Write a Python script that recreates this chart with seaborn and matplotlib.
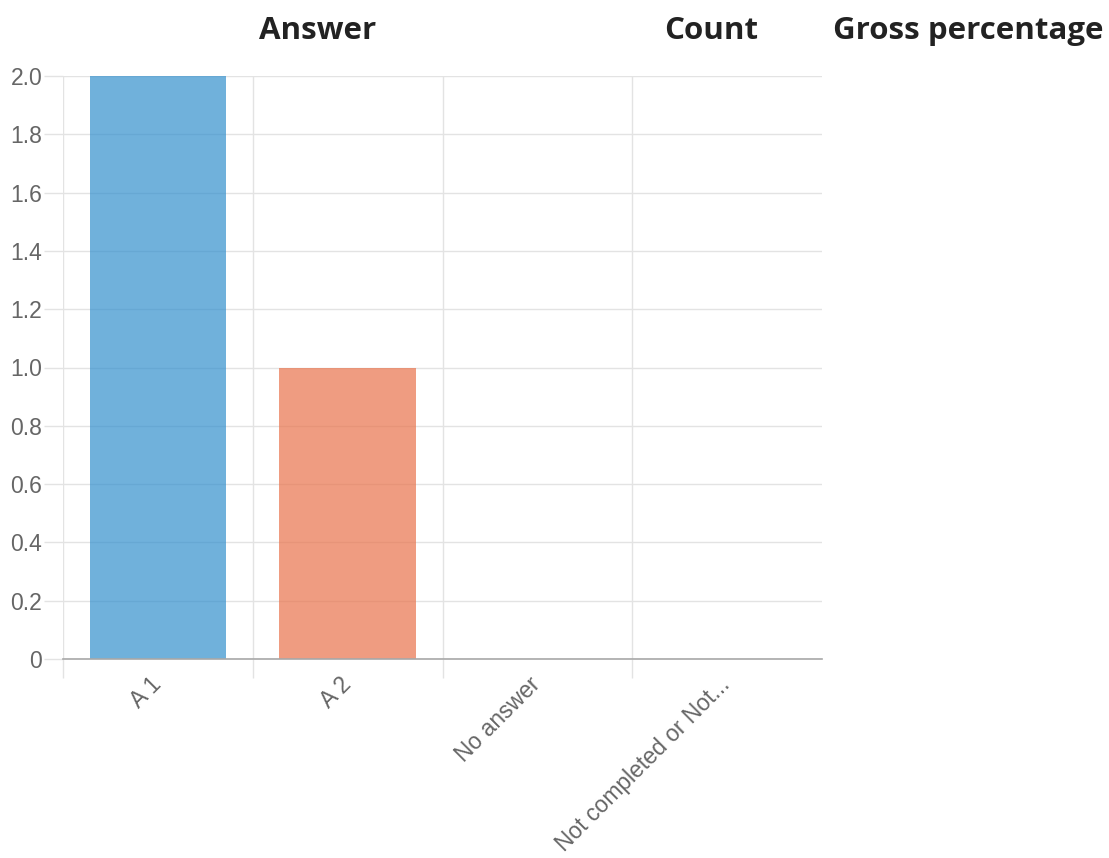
import numpy as np
import matplotlib
matplotlib.use('Agg')
import matplotlib.pyplot as plt
import matplotlib.transforms as mtransforms
import seaborn as sns

answers = ['A 1', 'A 2', 'No answer', 'Not completed or Not...']
counts = [2, 1, 0, 0]
bar_colors = ['#3390CD', '#E9734C', '#A5C66A', '#9B7FC2']
y_ticks = [0, 0.2, 0.4, 0.6, 0.8, 1.0, 1.2, 1.4, 1.6, 1.8, 2.0]
headings = ['Answer', 'Count', 'Gross percentage']
heading_x = [318, 711, 968]

W, H = 1109, 858
GRID = '#e3e3e3'
LABEL = '#666666'

sns.set_theme(style='white')
plt.rcParams['font.family'] = ['Liberation Sans', 'DejaVu Sans']

fig = plt.figure(figsize=(W / 100, H / 100), dpi=100)
ax = fig.add_axes([63 / W, (H - 659) / H, (822 - 63) / W, (659 - 76) / H])
ax.set_axisbelow(True)

sns.barplot(x=answers, y=counts, hue=answers, palette=bar_colors,
            legend=False, saturation=1, width=0.72, alpha=0.7,
            linewidth=0, ax=ax)

ax.set_xlim(-0.5, len(answers) - 0.5)
ax.set_ylim(0, 2.0)
ax.set_yticks(y_ticks)
ax.set_yticklabels(['0' if v == 0 else f'{v:.1f}' for v in y_ticks])
ax.set_xticks(np.arange(len(answers)))
ax.set_xticklabels(answers, rotation=45, ha='right', rotation_mode='anchor')
ax.set_xticks(np.arange(len(answers)) - 0.5, minor=True)

ax.tick_params(axis='y', length=14, width=1, color=GRID, pad=1,
               labelsize=16.5, labelcolor=LABEL, left=True)
ax.tick_params(axis='x', which='major', length=0, pad=10,
               labelsize=16.5, labelcolor=LABEL)
ax.tick_params(axis='x', which='minor', length=14, width=1, color=GRID,
               bottom=True)

# shift rotated labels a little left, like the original
shift = mtransforms.ScaledTranslation(-6 / 72, 0, fig.dpi_scale_trans)
for lab in ax.get_xticklabels():
    lab.set_transform(lab.get_transform() + shift)

ax.grid(True, axis='y', which='major', color=GRID, lw=1)
ax.grid(True, axis='x', which='minor', color=GRID, lw=1)
ax.grid(False, axis='x', which='major')

for s in ['top', 'right', 'left']:
    ax.spines[s].set_visible(False)
ax.spines['bottom'].set_color('#a8a8a8')
ax.spines['bottom'].set_linewidth(1.2)
ax.set_xlabel('')
ax.set_ylabel('')

for text, x in zip(headings, heading_x):
    fig.text(x / W, 1 - 39 / H, text, ha='center', va='baseline',
             fontsize=22.5, fontweight='bold', color='#222222',
             family=['Open Sans', 'DejaVu Sans'])

fig.savefig('out.png', dpi=100)
plt.close()
